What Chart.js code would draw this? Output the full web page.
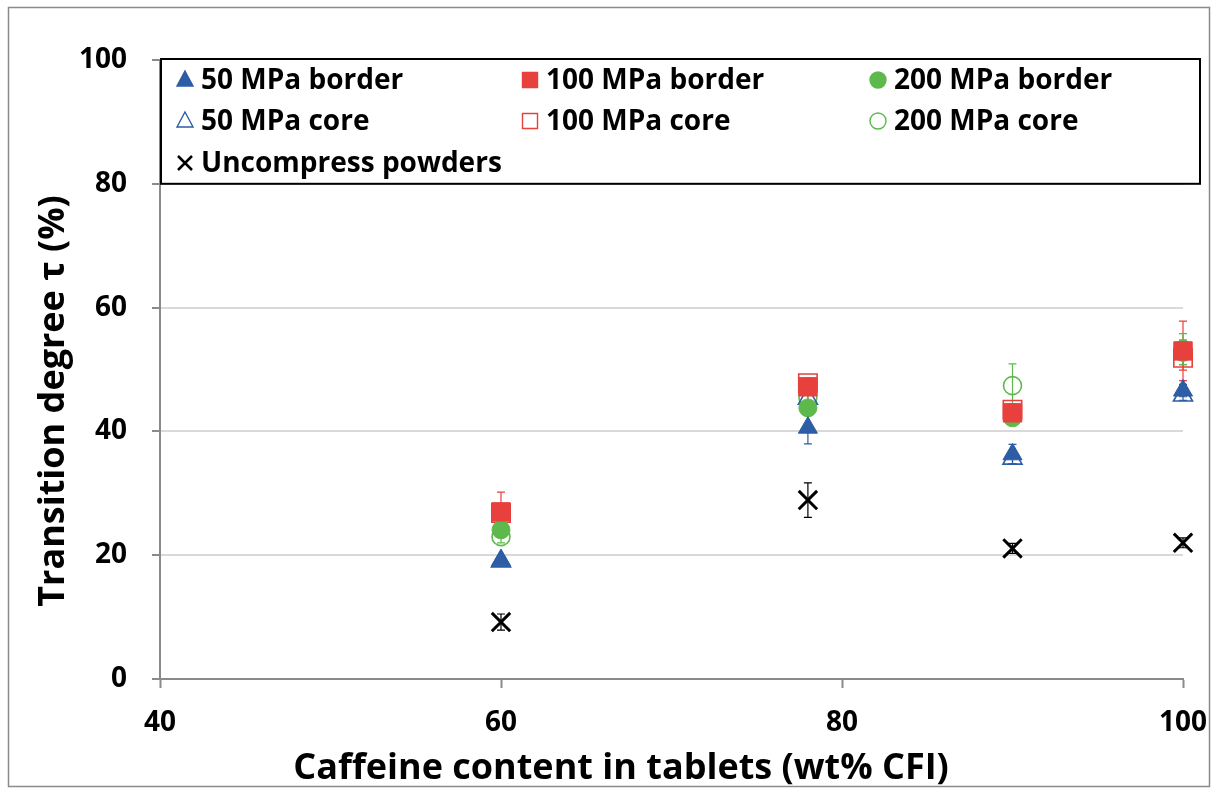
<!DOCTYPE html>
<html>
<head>
<meta charset="utf-8">
<script src="https://cdn.jsdelivr.net/npm/chart.js@4.4.1/dist/chart.umd.min.js"></script>
<style>
  html, body { margin: 0; padding: 0; background: #fff; }
  #wrap { width: 1217px; height: 794px; }
</style>
</head>
<body>
<div id="wrap"><canvas id="chart" width="1217" height="794"></canvas></div>
<script>
// caffeine content (wt% CFI) and transition degree tau (%)
const caffeine = [60, 78, 90, 100];
const xTicks = [40, 60, 80, 100];
const yTicks = [0, 20, 40, 60, 80, 100];

const border50 = [19.2, 40.6, 36.3, 46.6];
const border50Err = [0.5, 2.6, 1.6, 1.0];
const border100 = [27.0, 47.2, 43.0, 53.0];
const border100Err = [3.2, 1.0, 1.0, 4.8];
const border200 = [24.1, 43.8, 42.2, 53.3];
const border200Err = [0.8, 1.0, 1.0, 2.5];
const core50 = [19.0, 45.3, 35.6, 45.8];
const core50Err = [0.5, 0.8, 0.8, 0.8];
const core100 = [26.8, 47.8, 43.5, 51.9];
const core100Err = [0.8, 0.8, 1.0, 2.0];
const core200 = [23.0, 45.5, 47.4, 52.8];
const core200Err = [1.0, 1.2, 3.5, 2.0];
const powders = [9.2, 28.9, 21.1, 22.0];
const powdersErr = [1.3, 2.8, 0.8, 0.8];

const xTitle = "Caffeine content in tablets (wt% CFI)";
const yTitle = "Transition degree \u03c4 (%)";

const BLUE = "#2C5DA5";
const RED = "#E8403D";
const GREEN = "#5DB94B";
const FONT = "'Open Sans'";

function pts(vals) {
    return caffeine.map((x, i) => ({ x: x, y: vals[i] }));
}

function series(label, vals, errs, style, color, filled, radius) {
    return {
        label: label,
        data: pts(vals),
        errors: errs,
        pointStyle: style,
        pointRadius: radius,
        pointHoverRadius: radius,
        backgroundColor: filled ? color : "rgba(0,0,0,0)",
        borderColor: color,
        borderWidth: filled ? 1 : 1.6,
        showLine: false,
        clip: false
    };
}

const datasets = [
    series("50 MPa border", border50, border50Err, "triangle", BLUE, true, 11),
    series("100 MPa border", border100, border100Err, "rect", RED, true, 13),
    series("200 MPa border", border200, border200Err, "circle", GREEN, true, 9),
    series("50 MPa core", core50, core50Err, "triangle", BLUE, false, 11),
    series("100 MPa core", core100, core100Err, "rect", RED, false, 13),
    series("200 MPa core", core200, core200Err, "circle", GREEN, false, 9),
    series("Uncompress powders", powders, powdersErr, "crossRot", "#000", false, 13)
];
datasets[6].borderWidth = 3;

// outer frame + axis titles (Excel puts them off the plot centre)
const framePlugin = {
    id: "frame",
    beforeDraw(chart) {
        const ctx = chart.ctx;
        ctx.save();
        ctx.fillStyle = "#fff";
        ctx.fillRect(0, 0, chart.width, chart.height);
        ctx.strokeStyle = "#8a8a8a";
        ctx.lineWidth = 1.5;
        ctx.strokeRect(8.5, 7.5, 1201, 779);
        ctx.restore();
    },
    afterDraw(chart) {
        const ctx = chart.ctx;
        ctx.save();
        ctx.fillStyle = "#000";
        ctx.textAlign = "center";
        ctx.textBaseline = "middle";
        ctx.font = "bold 36px " + FONT;
        ctx.fillText(xTitle, 621, 769);
        ctx.translate(54, 401);
        ctx.rotate(-Math.PI / 2);
        ctx.fillText(yTitle, 0, 0);
        ctx.restore();
    }
};

// vertical error bars with caps
const errorBarPlugin = {
    id: "errorBars",
    beforeDatasetsDraw(chart) {
        const ctx = chart.ctx;
        const ys = chart.scales.y;
        ctx.save();
        chart.data.datasets.forEach((ds, i) => {
            const meta = chart.getDatasetMeta(i);
            ctx.strokeStyle = ds.borderColor;
            ctx.lineWidth = 1.2;
            meta.data.forEach((p, j) => {
                const v = ds.data[j].y, e = ds.errors[j];
                const top = ys.getPixelForValue(v + e);
                const bot = ys.getPixelForValue(v - e);
                ctx.beginPath();
                ctx.moveTo(p.x, top); ctx.lineTo(p.x, bot);
                ctx.moveTo(p.x - 4, top); ctx.lineTo(p.x + 4, top);
                ctx.moveTo(p.x - 4, bot); ctx.lineTo(p.x + 4, bot);
                ctx.stroke();
            });
        });
        ctx.restore();
    }
};

// boxed legend inside the plot, three columns
const legendPlugin = {
    id: "boxLegend",
    afterDatasetsDraw(chart) {
        const ctx = chart.ctx;
        const ca = chart.chartArea;
        const ys = chart.scales.y;
        const left = ca.left + 1, top = ca.top - 1;
        const right = ca.right + 17, bottom = ys.getPixelForValue(80);
        ctx.save();
        ctx.fillStyle = "#fff";
        ctx.fillRect(left, top, right - left, bottom - top);
        ctx.strokeStyle = "#000";
        ctx.lineWidth = 2;
        ctx.strokeRect(left, top, right - left, bottom - top);
        const colX = [24, 369, 717];
        const rowY = [21, 62, 104];
        ctx.font = "bold 28px " + FONT;
        ctx.textBaseline = "middle";
        chart.data.datasets.forEach((ds, i) => {
            const col = i < 6 ? i % 3 : 0;
            const row = i < 6 ? Math.floor(i / 3) : 2;
            const x = left + colX[col], y = top + rowY[row];
            ctx.fillStyle = ds.backgroundColor;
            ctx.strokeStyle = ds.borderColor;
            ctx.lineWidth = ds.pointStyle === "crossRot" ? 2.5 : 1.4;
            ctx.beginPath();
            drawMarker(ctx, ds.pointStyle, x, y);
            ctx.fill();
            ctx.stroke();
            ctx.fillStyle = "#000";
            ctx.fillText(ds.label, x + 16, y + 1);
        });
        ctx.restore();
    }
};

function drawMarker(ctx, style, x, y) {
    if (style === "triangle") {
        ctx.moveTo(x, y - 9); ctx.lineTo(x + 8, y + 6); ctx.lineTo(x - 8, y + 6); ctx.closePath();
    } else if (style === "rect") {
        ctx.rect(x - 7.5, y - 7.5, 15, 15);
    } else if (style === "circle") {
        ctx.arc(x, y, 8, 0, Math.PI * 2);
    } else {
        ctx.moveTo(x - 7, y - 7); ctx.lineTo(x + 7, y + 7);
        ctx.moveTo(x + 7, y - 7); ctx.lineTo(x - 7, y + 7);
    }
}

new Chart(document.getElementById("chart"), {
    type: "scatter",
    data: { datasets: datasets },
    options: {
        responsive: false,
        animation: false,
        layout: { padding: { top: 60, right: 34, left: 0, bottom: 0 } },
        plugins: {
            legend: { display: false },
            tooltip: { enabled: false }
        },
        scales: {
            x: {
                type: "linear",
                min: 40, max: 100,
                afterFit(s) { s.height = 115; s.paddingLeft = 0; s.paddingRight = 0; },
                afterBuildTicks(s) { s.ticks = xTicks.map(v => ({ value: v })); },
                ticks: { color: "#000", font: { family: FONT, weight: "bold", size: 28 }, padding: 18 },
                grid: { drawOnChartArea: false, tickLength: 9, tickColor: "#8a8a8a", tickWidth: 2 },
                border: { color: "#8a8a8a", width: 2 }
            },
            y: {
                min: 0, max: 100,
                afterFit(s) { s.width = 160; },
                afterBuildTicks(s) { s.ticks = yTicks.map(v => ({ value: v })); },
                ticks: { color: "#000", font: { family: FONT, weight: "bold", size: 28 }, padding: 25 },
                grid: { color: "#d9d9d9", lineWidth: 2, tickLength: 8, tickColor: "#8a8a8a", tickWidth: 2 },
                border: { color: "#8a8a8a", width: 2 }
            }
        }
    },
    plugins: [framePlugin, errorBarPlugin, legendPlugin]
});
</script>
</body>
</html>
